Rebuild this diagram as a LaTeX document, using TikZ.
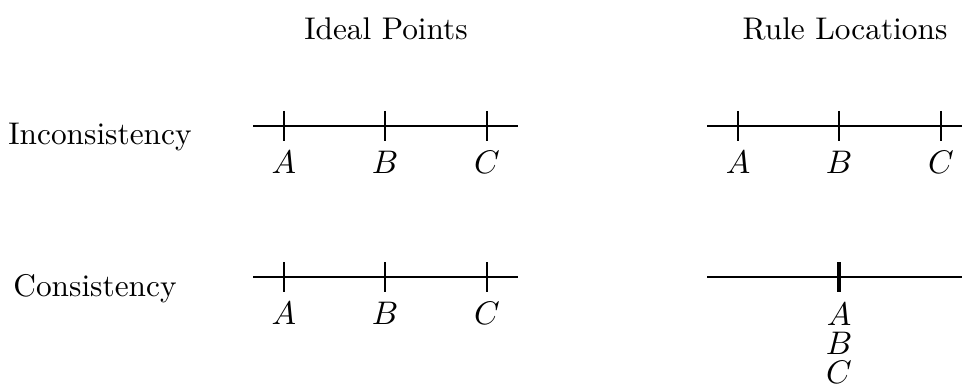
\documentclass[tikz,border=0pt]{standalone}
\begin{document}
\begin{tikzpicture}[x=0.335pt,y=-0.335pt,
  every node/.style={font=\fontsize{10.5pt}{12.6pt}\selectfont},
  axis/.style={line width=0.6pt},
  tick/.style={line width=0.6pt},
  bigtick/.style={line width=1.1pt},
  lab/.style={inner sep=0pt,text height=7.2pt,text depth=0pt},
  title/.style={inner sep=0pt}]
\useasboundingbox (0,0) rectangle (962,389);
% titles
\node[title] (t1) at (386,29) {Ideal Points};
\node[title] (t2) at (845,29) {Rule Locations};
\node[title] (r1) at (100,137) {Inconsistency};
\node[title] (r2) at (95,289) {Consistency};
% top-left
\coordinate (a1) at (253,126); \coordinate (b1) at (518,126);
\draw[axis] (a1) -- (b1);
\foreach \x/\n in {284/A,385/B,487/C}{
  \draw[tick] (\x,111) -- (\x,141);
  \node[lab] (tl\n) at (\x,163) {$\n$};
}
% top-right
\coordinate (a2) at (707,126); \coordinate (b2) at (962,126);
\draw[axis] (a2) -- (b2);
\foreach \x/\n in {738/A,839/B,941/C}{
  \draw[tick] (\x,111) -- (\x,141);
  \node[lab] (tr\n) at (\x,163) {$\n$};
}
% bottom-left
\coordinate (a3) at (253,277); \coordinate (b3) at (518,277);
\draw[axis] (a3) -- (b3);
\foreach \x/\n in {284/A,385/B,487/C}{
  \draw[tick] (\x,262) -- (\x,292);
  \node[lab] (bl\n) at (\x,314) {$\n$};
}
% bottom-right
\coordinate (a4) at (707,277); \coordinate (b4) at (962,277);
\draw[axis] (a4) -- (b4);
\draw[bigtick] (839,262) -- (839,292);
\node[lab] (brA) at (839,315) {$A$};
\node[lab] (brB) at (839,344) {$B$};
\node[lab] (brC) at (839,373) {$C$};
\end{tikzpicture}
\end{document}
